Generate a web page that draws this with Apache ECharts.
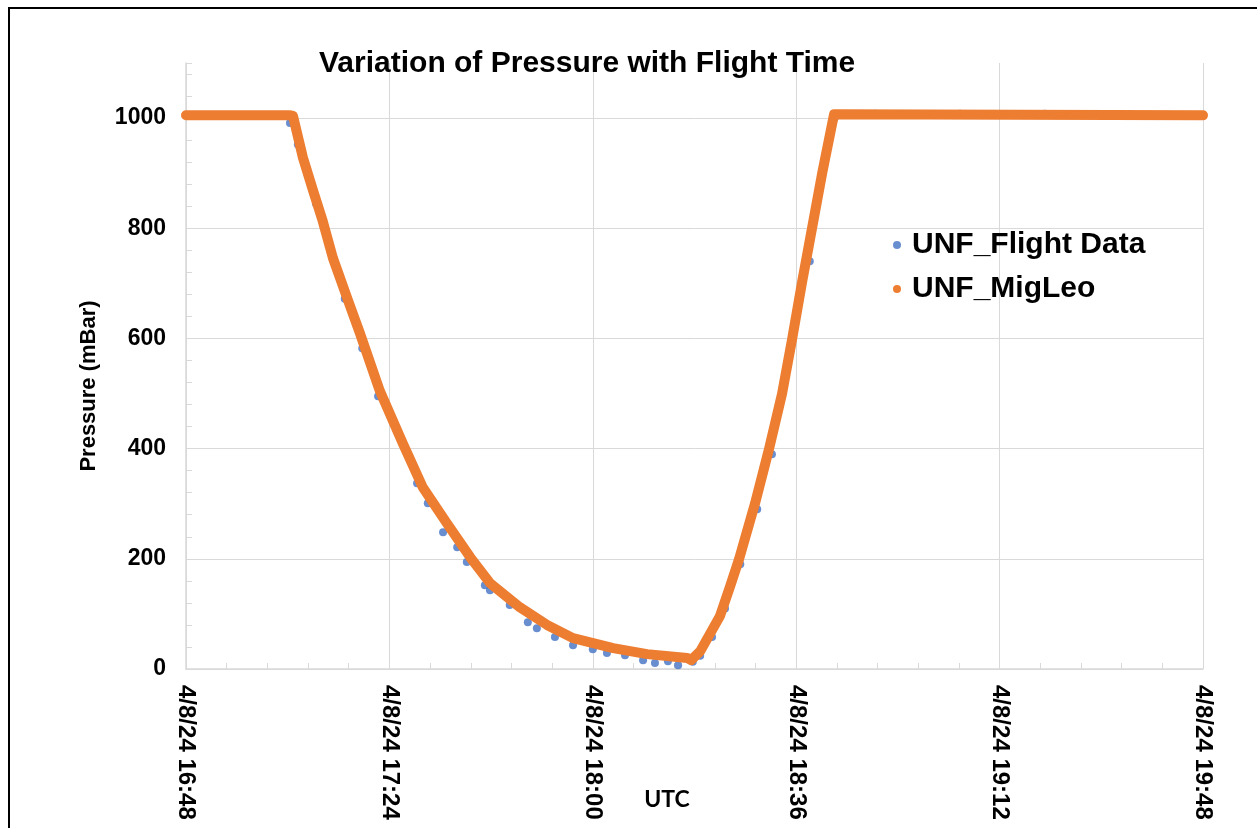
<!DOCTYPE html>
<html>
<head>
<meta charset="utf-8">
<title>Variation of Pressure with Flight Time</title>
<script src="https://cdn.jsdelivr.net/npm/echarts@6/dist/echarts.min.js"></script>
<style>
  html, body { margin: 0; padding: 0; background: #fff; }
  #chart { width: 1257px; height: 828px; }
</style>
</head>
<body>
<div id="chart"></div>
<script>
// UTC times (4/8/24) and pressure in mBar
var flightTime = ['16:48:00','17:06:00','17:06:24','17:07:48','17:11:00','17:13:30','17:16:06','17:19:12','17:22:00',
    '17:28:54','17:30:48','17:33:30','17:36:00','17:37:42','17:40:54','17:41:48','17:45:18','17:48:30','17:50:06',
    '17:53:18','17:56:30','18:00:00','18:02:30','18:05:42','18:08:54','18:11:00','18:13:18','18:15:06','18:17:42',
    '18:19:00','18:21:06','18:23:24','18:26:06','18:29:06','18:31:42','18:35:06','18:38:24','18:40:36','18:42:48',
    '18:45:30','18:50:00','19:05:00','19:20:00','19:35:00','19:48:00'];
var flightPressure = [1005, 1005, 991, 952, 845, 763, 672, 582, 495,
    337, 301, 248, 221, 194, 152, 143, 116, 85, 74,
    58, 43, 36, 29, 25, 16, 11, 14, 7, 13,
    24, 58, 110, 190, 290, 390, 585, 740, 895, 1000,
    1007, 1008, 1008, 1008, 1007, 1005];

var migleoTime = ['16:48:00','17:06:30','17:06:56','17:08:42','17:10:30','17:12:12','17:14:00','17:16:30','17:18:48',
    '17:22:18','17:26:24','17:29:54','17:34:12','17:38:18','17:41:48','17:47:06','17:51:54','17:56:30','18:03:36',
    '18:09:36','18:16:42','18:17:24','18:19:00','18:22:30','18:24:18','18:25:54','18:28:42','18:31:12','18:33:30',
    '18:35:18','18:37:00','18:38:48','18:40:36','18:42:42','19:48:00'];
var migleoPressure = [1005, 1005, 1004, 928, 868, 813, 746, 674, 609,
    505, 409, 330, 264, 203, 156, 112, 80, 56, 38,
    27, 20, 16, 32, 96, 150, 200, 300, 400, 500,
    600, 700, 800, 900, 1007, 1005];

var startMin = 16 * 60 + 48;   // 16:48 UTC = 0 on the axis
var yTicks = [0, 200, 400, 600, 800, 1000];

function toMin(t){
    var p = t.split(':');
    return (+p[0]) * 60 + (+p[1]) + (+p[2]) / 60 - startMin;
}
function pairs(times, vals){
    return times.map(function(t, i){ return [toMin(t), vals[i]]; });
}
function timeLabel(v){
    var tot = Math.round(startMin + v);
    var h = Math.floor(tot / 60), m = tot % 60;
    return '4/8/24 ' + h + ':' + (m < 10 ? '0' + m : m);
}

var font = 'Liberation Sans, Arial, sans-serif';
var gridGray = '#d9d9d9';

var option = {
    animation: false,
    backgroundColor: '#fff',
    title: {
        text: 'Variation of Pressure with Flight Time',
        left: 314, top: 44,
        textStyle: {fontFamily: font, fontSize: 30, fontWeight: 'bold', color: '#000'}
    },
    legend: {
        orient: 'vertical',
        left: 888, top: 225,
        icon: 'circle',
        itemWidth: 8, itemHeight: 8,
        itemGap: 14,
        textStyle: {fontFamily: font, fontSize: 30, fontWeight: 'bold', color: '#000', padding: [0, 0, 0, 6]},
        data: ['UNF_Flight Data', 'UNF_MigLeo']
    },
    grid: {left: 186, right: 54, top: 63, bottom: 159},
    xAxis: {
        type: 'value',
        min: 0, max: 180, interval: 36,
        axisLine: {show: true, lineStyle: {color: gridGray, width: 1.5}},
        axisTick: {show: true, inside: true, length: 6, lineStyle: {color: gridGray}},
        minorTick: {show: true, splitNumber: 5, length: 6, lineStyle: {color: gridGray}},
        splitLine: {show: true, lineStyle: {color: gridGray}},
        axisLabel: {
            rotate: -90, margin: 16,
            fontFamily: font, fontSize: 24, fontWeight: 'bold', color: '#000',
            formatter: timeLabel
        }
    },
    yAxis: {
        type: 'value',
        min: 0, max: 1100, interval: 200,
        name: 'Pressure (mBar)',
        nameLocation: 'middle',
        nameGap: 86,
        nameTextStyle: {fontFamily: font, fontSize: 22, fontWeight: 'bold', color: '#000', padding: [0, 40, 0, 0]},
        axisLine: {show: true, lineStyle: {color: gridGray, width: 1.5}},
        axisTick: {show: true, inside: true, length: 6, lineStyle: {color: gridGray}},
        minorTick: {show: true, splitNumber: 5, length: 6, lineStyle: {color: gridGray}},
        splitLine: {show: true, showMaxLine: false, lineStyle: {color: gridGray}},
        axisLabel: {
            margin: 20, showMaxLabel: false,
            fontFamily: font, fontSize: 23, fontWeight: 'bold', color: '#000',
            formatter: function(v){ return yTicks.indexOf(v) >= 0 ? String(v) : ''; }
        }
    },
    graphic: [
        {type: 'rect', shape: {x: 9, y: 8, width: 1400, height: 1000},
         style: {fill: 'none', stroke: '#000', lineWidth: 2}, silent: true},
        {type: 'text', x: 667, y: 800,
         style: {text: 'UTC', font: 'bold 23px Lato, sans-serif', fill: '#000', align: 'center', verticalAlign: 'middle'}}
    ],
    series: [
        {
            name: 'UNF_Flight Data',
            type: 'scatter',
            symbol: 'circle',
            symbolSize: 8,
            itemStyle: {color: '#4472C4'},
            data: pairs(flightTime, flightPressure)
        },
        {
            name: 'UNF_MigLeo',
            type: 'line',
            showSymbol: false,
            lineStyle: {color: '#ED7D31', width: 10, cap: 'round', join: 'round'},
            itemStyle: {color: '#ED7D31'},
            data: pairs(migleoTime, migleoPressure)
        }
    ]
};

echarts.init(document.getElementById('chart')).setOption(option);
</script>
</body>
</html>
